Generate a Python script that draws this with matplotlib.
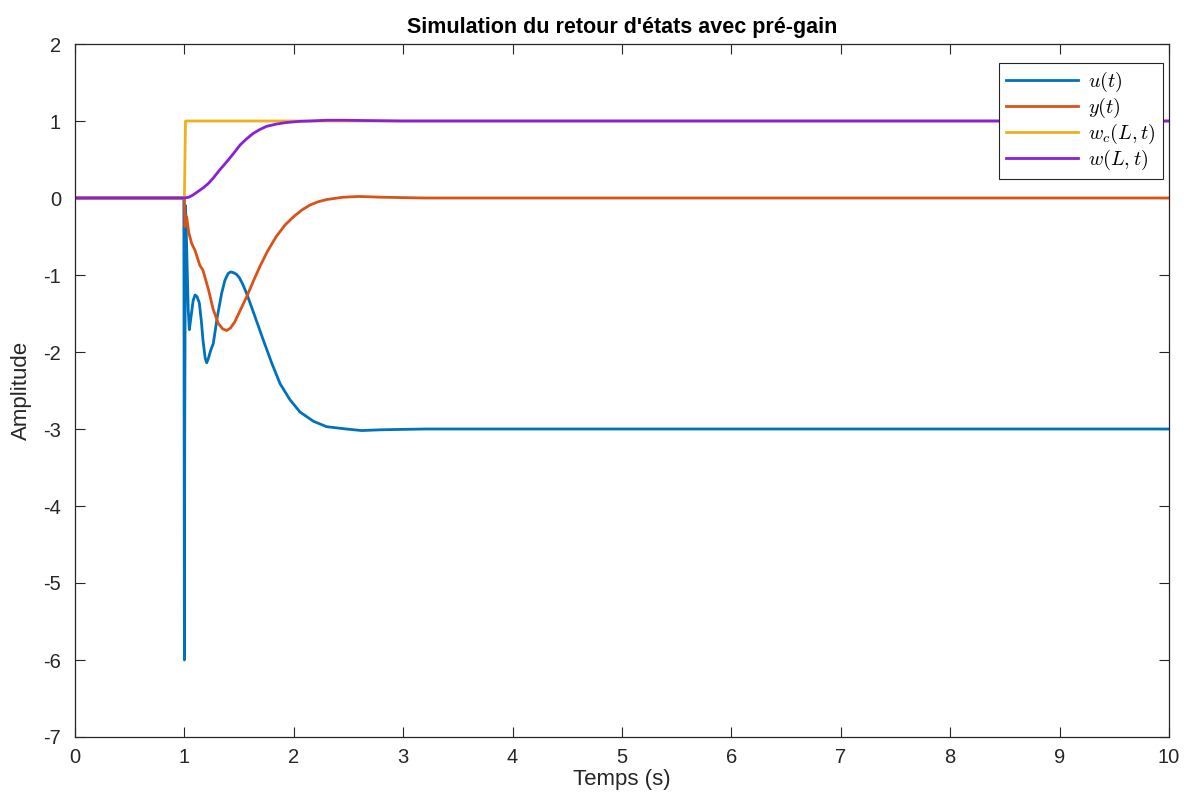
import matplotlib
matplotlib.use("Agg")
import matplotlib.pyplot as plt

plt.rcParams['font.family'] = ['Liberation Sans', 'DejaVu Sans']
plt.rcParams['mathtext.fontset'] = 'cm'
plt.rcParams['axes.unicode_minus'] = False

# u(t)
t_u = [0, 0.995, 1.0, 1.003, 1.01, 1.02, 1.035, 1.045, 1.06, 1.08, 1.097, 1.115, 1.136, 1.155,
       1.17, 1.19, 1.204, 1.22, 1.24, 1.264, 1.30, 1.34, 1.37, 1.40, 1.423, 1.45, 1.475, 1.50,
       1.53, 1.569, 1.645, 1.72, 1.80, 1.874, 1.965, 2.057, 2.18, 2.30, 2.48, 2.62, 2.8, 3.2, 10]
u = [0, 0, -6.0, -3.0, -0.1, -0.6, -1.45, -1.71, -1.55, -1.33, -1.26, -1.28, -1.36, -1.60,
     -1.85, -2.08, -2.14, -2.08, -1.98, -1.89, -1.55, -1.24, -1.07, -0.98, -0.96, -0.97, -0.99, -1.03,
     -1.11, -1.24, -1.54, -1.84, -2.15, -2.41, -2.62, -2.78, -2.90, -2.97, -3.0, -3.02, -3.01, -3.0, -3.0]

# y(t)
t_y = [0, 1.0, 1.005, 1.02, 1.04, 1.066, 1.097, 1.14, 1.17, 1.22, 1.264, 1.31, 1.35, 1.387,
       1.42, 1.46, 1.51, 1.57, 1.63, 1.69, 1.76, 1.84, 1.92, 2.0, 2.08, 2.15, 2.22, 2.3,
       2.45, 2.6, 2.8, 3.2, 10]
y = [0, 0, -0.37, -0.24, -0.45, -0.59, -0.68, -0.87, -0.94, -1.19, -1.45, -1.63, -1.70, -1.72,
     -1.69, -1.61, -1.46, -1.28, -1.08, -0.89, -0.69, -0.50, -0.35, -0.24, -0.15, -0.09, -0.05, -0.02,
     0.01, 0.02, 0.01, 0.0, 0.0]

# w_c(L,t)
t_wc = [0, 1.0, 1.01, 10]
wc = [0, 0, 1.0, 1.0]

# w(L,t)
t_w = [0, 1.0, 1.04, 1.08, 1.12, 1.17, 1.22, 1.264, 1.32, 1.387, 1.45, 1.51, 1.57, 1.63,
       1.69, 1.75, 1.84, 1.93, 2.05, 2.15, 2.3, 2.45, 2.7, 3.0, 10]
w = [0, 0, 0.01, 0.04, 0.08, 0.13, 0.19, 0.26, 0.36, 0.47, 0.58, 0.69, 0.77, 0.84,
     0.89, 0.93, 0.96, 0.98, 0.995, 1.0, 1.01, 1.01, 1.005, 1.0, 1.0]

labels = [r'$u(t)$', r'$y(t)$', r'$w_c(L,t)$', r'$w(L,t)$']
colors = ['#0072BD', '#D95319', '#EDB120', '#8A1FD8']

fig = plt.figure(figsize=(11.87, 8.06), dpi=100)
ax = fig.add_axes([75/1187, 1-737/806, (1169-75)/1187, (737-44)/806])

for tt, vv, lab, c in zip([t_u, t_y, t_wc, t_w], [u, y, wc, w], labels, colors):
    ax.plot(tt, vv, color=c, lw=2, label=lab)

ax.set_xlim(0, 10)
ax.set_ylim(-7, 2)
ax.set_xticks(range(0, 11))
ax.set_yticks(range(-7, 3))
ax.tick_params(direction='in', length=7, labelsize=14.5, colors='#262626',
               top=True, right=True)
ax.tick_params(axis='x', pad=8)
ax.tick_params(axis='y', pad=10)
for s in ax.spines.values():
    s.set_color('#262626')
    s.set_linewidth(0.9)

ax.set_title("Simulation du retour d'états avec pré-gain", fontsize=15.5, fontweight='bold',
             color='black', pad=8)
ax.set_xlabel('Temps (s)', fontsize=16, color='#262626', labelpad=1)
ax.set_ylabel('Amplitude', fontsize=16, color='#262626', labelpad=8)

leg = ax.legend(loc='upper right', bbox_to_anchor=(0.9945, 0.973), fontsize=14.5,
                fancybox=False, edgecolor='#262626', framealpha=1,
                handlelength=3.6, handletextpad=0.5, labelspacing=0.1,
                borderpad=0.35, borderaxespad=0)
leg.get_frame().set_linewidth(0.8)

fig.savefig('out.png', dpi=100)
